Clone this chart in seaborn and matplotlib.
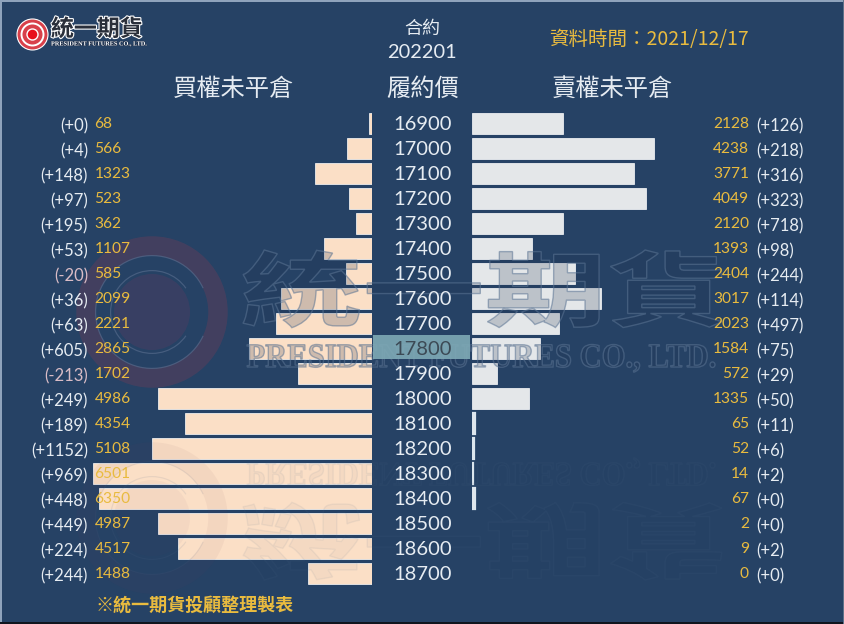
import matplotlib
matplotlib.use("Agg")
import matplotlib.pyplot as plt
import matplotlib.patheffects as pe
import pandas as pd
import seaborn as sns
from matplotlib.font_manager import FontProperties
from matplotlib.patches import Circle, PathPatch, Rectangle, Wedge
from matplotlib.textpath import TextPath
from matplotlib.transforms import Affine2D

# ----- Data -----
strikes = [16900, 17000, 17100, 17200, 17300, 17400, 17500, 17600, 17700, 17800,
           17900, 18000, 18100, 18200, 18300, 18400, 18500, 18600, 18700]
call_oi = [68, 566, 1323, 523, 362, 1107, 585, 2099, 2221, 2865,
           1702, 4986, 4354, 5108, 6501, 6350, 4987, 4517, 1488]
call_chg = [0, 4, 148, 97, 195, 53, -20, 36, 63, 605,
            -213, 249, 189, 1152, 969, 448, 449, 224, 244]
put_oi = [2128, 4238, 3771, 4049, 2120, 1393, 2404, 3017, 2023, 1584,
          572, 1335, 65, 52, 14, 67, 2, 9, 0]
put_chg = [126, 218, 316, 323, 718, 98, 244, 114, 497, 75,
           29, 50, 11, 6, 2, 0, 0, 2, 0]
contract = "202201"
data_date = "2021/12/17"
atm_strike = 17800

# ----- Style -----
W, H = 844, 624
BG = "#264265"
GOLD = "#E9BB3F"
WHITE = "#E6ECF2"
PINK = "#D9BCC6"
CALL_BAR = "#FBDFC6"
PUT_BAR = "#E4E7E9"
PX_PER_LOT = 0.0429
ROW0, ROW_H = 123, 25  # pixel centre of the first row, row pitch

sns.set_theme(style="white")
plt.rcParams["font.family"] = ["Lato", "Noto Sans CJK TC", "DejaVu Sans"]
CJK = ["Noto Sans CJK TC", "DejaVu Sans"]

fig = plt.figure(figsize=(W / 100, H / 100), dpi=100, facecolor=BG)


def add_px_axes(x0, x1):
    ax = fig.add_axes([x0 / W, 0, (x1 - x0) / W, 1], facecolor="none")
    return ax


df = pd.DataFrame({"strike": [str(s) for s in strikes], "call": call_oi, "put": put_oi})

# ----- Bars -----
ax_call = add_px_axes(0, 371.5)
sns.barplot(data=df, y="strike", x="call", color=CALL_BAR, saturation=1, width=0.84,
            edgecolor="white", linewidth=0.5, ax=ax_call)
ax_call.set_xlim(371.5 / PX_PER_LOT, 0)

ax_put = add_px_axes(472, W)
sns.barplot(data=df, y="strike", x="put", color=PUT_BAR, saturation=1, width=0.84,
            edgecolor="white", linewidth=0.5, ax=ax_put)
ax_put.set_xlim(0, (W - 472) / PX_PER_LOT)

# tiny bars: the reference shows a hairline for tens of lots and nothing below that
for bar, v in zip(ax_put.patches, put_oi):
    if v < 10:
        bar.set_linewidth(0)
    elif v < 100:
        bar.set_linewidth(1.6)
        bar.set_edgecolor("#DCE6EE")

for ax in (ax_call, ax_put):
    # row i sits at pixel ROW0 + i * ROW_H
    ax.set_ylim((H - ROW0) / ROW_H, -ROW0 / ROW_H)
    ax.axis("off")

# ----- Overlay in pixel coordinates: watermark, labels, titles -----
ov = fig.add_axes([0, 0, 1, 1], facecolor="none")
ov.set_xlim(0, W)
ov.set_ylim(H, 0)
ov.axis("off")


def path_text(s, x, baseline, size, prop, alpha, mirror=None, width=None, sy=1.0):
    tp = TextPath((0, 0), s, size=size, prop=prop)
    box = tp.get_extents()
    sx = 1.0 if width is None else width / box.width
    tr = Affine2D().translate(-box.x0, 0).scale(sx, -sy).translate(x, baseline)
    if mirror is not None:
        tr = tr + Affine2D().scale(1, -1).translate(0, mirror)
    ov.add_patch(PathPatch(tp, transform=tr + ov.transData, lw=1.0,
                           fc=(0.11, 0.18, 0.30, 0.20 * alpha),
                           ec=(0.36, 0.46, 0.58, 0.55 * alpha)))


def watermark(mirror=None, alpha=1.0):
    flip = (lambda y: y) if mirror is None else (lambda y: mirror - y)
    cx, cy = 152, flip(312)
    ov.add_patch(Circle((cx, cy), 66, fc="none", ec="#7A3C55", lw=14, alpha=0.34 * alpha))
    ov.add_patch(Circle((cx, cy), 38, fc="#6A3A60", ec="none", alpha=0.28 * alpha))
    ov.add_patch(Wedge((cx, cy), 42, 35, 325, width=1.2, fc="#54698A", ec="none", alpha=0.7 * alpha))
    ov.add_patch(Wedge((cx, cy), 57, 25, 335, width=1.2, fc="#54698A", ec="none", alpha=0.7 * alpha))
    bold = FontProperties(family="Noto Sans CJK TC", weight="bold")
    serif = FontProperties(family="Liberation Serif", weight="bold")
    path_text("統一期貨", 243, 320, 120, bold, alpha, mirror=mirror, width=479, sy=0.68)
    path_text("PRESIDENT FUTURES CO., LTD.", 247, 367, 34, serif, alpha, mirror=mirror, width=468)


watermark()
watermark(mirror=830, alpha=0.16)

# strike column
for i, s in enumerate(strikes):
    y = ROW0 + i * ROW_H
    if s == atm_strike:
        ov.add_patch(Rectangle((373, y - 13), 97, 24, fc="#7FAAB6", ec="none", alpha=0.9))
    ov.text(422.5, y + 1.5, str(s), ha="center", va="center", fontsize=14.5,
            color="#3C4A55" if s == atm_strike else WHITE)


def chg_label(v):
    return f"(+{v})" if v >= 0 else f"({v})"


for i in range(len(strikes)):
    y = ROW0 + i * ROW_H
    ov.text(88, y + 3.5, chg_label(call_chg[i]), ha="right", va="center", fontsize=12,
            color=WHITE if call_chg[i] >= 0 else PINK)
    ov.text(94.5, y + 1, str(call_oi[i]), ha="left", va="center", fontsize=11.2, color=GOLD)
    ov.text(749, y + 1, str(put_oi[i]), ha="right", va="center", fontsize=11.2, color=GOLD)
    ov.text(756, y + 3.5, chg_label(put_chg[i]), ha="left", va="center", fontsize=12,
            color=WHITE if put_chg[i] >= 0 else PINK)

# headers
ov.text(422, 29, "合約", ha="center", va="center", fontsize=13, color=WHITE, family=CJK)
ov.text(421.5, 52, contract, ha="center", va="center", fontsize=14.4, color=WHITE)
for x, label in [(233, "買權未平倉"), (423, "履約價"), (612, "賣權未平倉")]:
    ov.text(x, 89, label, ha="center", va="center", fontsize=17.5, color=WHITE,
            family=CJK, weight="medium")
ov.text(549, 40, "資料時間：" + data_date, ha="left", va="center", fontsize=14,
        color=GOLD, family=CJK, weight="medium")
ov.text(95, 605, "※統一期貨投顧整理製表", ha="left", va="center", fontsize=13,
        color=GOLD, family=CJK, weight="bold")

# company logo
ov.add_patch(Circle((32.5, 34.5), 15.5, fc="#D8404A", ec="white", lw=0.8))
ov.add_patch(Circle((32.5, 34.5), 11, fc="none", ec="white", lw=1.4))
ov.add_patch(Circle((32.5, 34.5), 5.5, fc="#E8101C", ec="white", lw=1))
ov.text(51, 29.5, "統一期貨", ha="left", va="center", fontsize=16.5, color="#2A2F3A", family=CJK,
        weight="bold", path_effects=[pe.withStroke(linewidth=1.6, foreground="white")])
ov.text(51, 44, "PRESIDENT FUTURES CO., LTD.", ha="left", va="center", fontsize=4.5,
        color="white", family="Liberation Serif", weight="bold",
        path_effects=[pe.withStroke(linewidth=0.8, foreground="#20304A")])

# picture frame
ov.add_patch(Rectangle((0, 0), W, 2, fc="#8FA3BC", ec="none"))
ov.add_patch(Rectangle((0, 0), 1.5, H, fc="#8FA3BC", ec="none"))
ov.add_patch(Rectangle((0, H - 2), W, 2, fc="#10151E", ec="none"))
ov.add_patch(Rectangle((W - 1.5, 0), 1.5, H, fc="#5E7289", ec="none"))

fig.savefig("out.png", dpi=100, facecolor=fig.get_facecolor())
